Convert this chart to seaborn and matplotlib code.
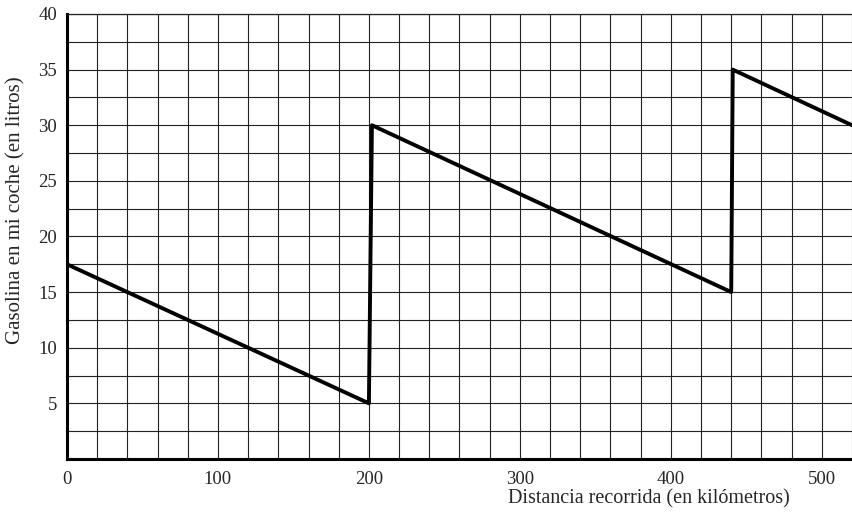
import numpy as np
import pandas as pd
import matplotlib
matplotlib.use("Agg")
import matplotlib.pyplot as plt
import seaborn as sns

# --- datos del gráfico ---
distancia = [0, 200, 202, 440, 441, 520]
gasolina = [17.5, 5, 30, 15, 35, 30]
x_ticks = [0, 100, 200, 300, 400, 500]
y_ticks = [5, 10, 15, 20, 25, 30, 35, 40]

sns.set_style("white")
plt.rcParams['font.family'] = ['Liberation Serif', 'DejaVu Serif']

df = pd.DataFrame({'distancia': distancia, 'gasolina': gasolina})

fig = plt.figure(figsize=(8.52, 5.18), dpi=100)
ax = fig.add_axes([0.0786, 0.114, 0.9214, 0.859])

sns.lineplot(data=df, x='distancia', y='gasolina', sort=False,
             color='black', linewidth=2.8, ax=ax, zorder=5)

ax.set_xlim(0, 520)
ax.set_ylim(0, 40)

# cuadrícula cada 20 km y cada 2.5 litros
ax.set_xticks(np.arange(0, 521, 20), minor=True)
ax.set_yticks(np.arange(0, 40.1, 2.5), minor=True)
ax.set_xticks(x_ticks)
ax.set_yticks(y_ticks)
ax.grid(which='both', color='#222222', linewidth=0.8)
ax.set_axisbelow(True)

ax.tick_params(which='both', length=0, labelsize=13.5)
ax.tick_params(axis='x', pad=9)
ax.tick_params(axis='y', pad=7)

for side in ['left', 'bottom']:
    ax.spines[side].set_linewidth(2.2)
    ax.spines[side].set_color('black')
ax.spines['top'].set_linewidth(0.9)
ax.spines['top'].set_color('#222222')
ax.spines['right'].set_visible(False)

ax.set_xlabel('')
ax.set_ylabel('')
fig.text(16 / 852, 0.595, 'Gasolina en mi coche (en litros)', fontsize=15,
         rotation=90, ha='center', va='center')
fig.text(790 / 852, 0.028, 'Distancia recorrida (en kilómetros)', fontsize=14.5,
         ha='right', va='baseline')

fig.savefig('out.png', dpi=100)
